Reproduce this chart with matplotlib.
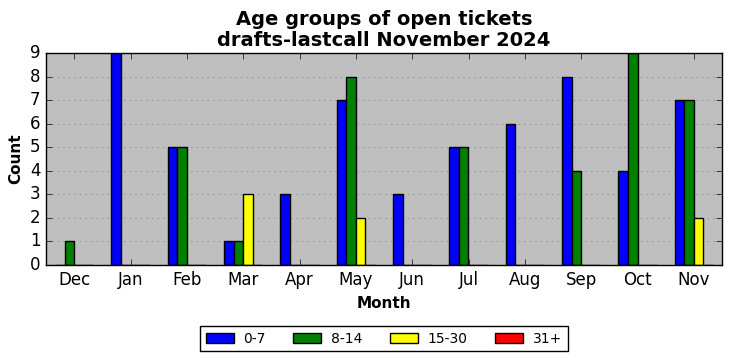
import matplotlib
matplotlib.use("Agg")
import matplotlib.pyplot as plt
import numpy as np

months = ["Dec", "Jan", "Feb", "Mar", "Apr", "May", "Jun", "Jul", "Aug", "Sep", "Oct", "Nov"]
age_0_7 = [0, 9, 5, 1, 3, 7, 3, 5, 6, 8, 4, 7]
age_8_14 = [1, 0, 5, 1, 0, 8, 0, 5, 0, 4, 9, 7]
age_15_30 = [0, 0, 0, 3, 0, 2, 0, 0, 0, 0, 0, 2]
age_31_plus = [0, 0, 0, 0, 0, 0, 0, 0, 0, 0, 0, 0]

series = [("0-7", age_0_7, "blue"), ("8-14", age_8_14, "green"),
          ("15-30", age_15_30, "yellow"), ("31+", age_31_plus, "red")]

plt.style.use("classic")
fig = plt.figure(figsize=(7.32, 3.61), dpi=100, facecolor="white")
ax = fig.add_axes([46 / 732, 1 - 265 / 361, 676 / 732, 212 / 361])
ax.set_facecolor("#bfbfbf")

x = np.arange(len(months))
w = 0.17
for i, (name, vals, col) in enumerate(series):
    ax.bar(x + (i - 2) * w, vals, w, align="edge", color=col, edgecolor="black",
           linewidth=1, label=name)

ax.set_xlim(-0.5, len(months) - 0.5)
ax.set_ylim(0, 9)
ax.set_xticks(x)
ax.set_xticklabels(months, fontsize=12)
ax.set_yticks(range(10))
ax.tick_params(axis="y", labelsize=12)
ax.yaxis.grid(True, linestyle=":", color="#808080")
ax.set_axisbelow(True)
ax.set_xlabel("Month", fontsize=11, fontweight="bold")
ax.set_ylabel("Count", fontsize=11, fontweight="bold")
ax.set_title("Age groups of open tickets\ndrafts-lastcall November 2024",
             fontsize=14, fontweight="bold", linespacing=1.15, pad=5)

leg = ax.legend(loc="upper center", bbox_to_anchor=(0.5, -0.255), ncol=4,
                fontsize=10, fancybox=False, handlelength=2.0,
                handletextpad=0.7, columnspacing=2.0)
leg.get_frame().set_edgecolor("black")

fig.savefig("out.png", dpi=100, facecolor="white")
